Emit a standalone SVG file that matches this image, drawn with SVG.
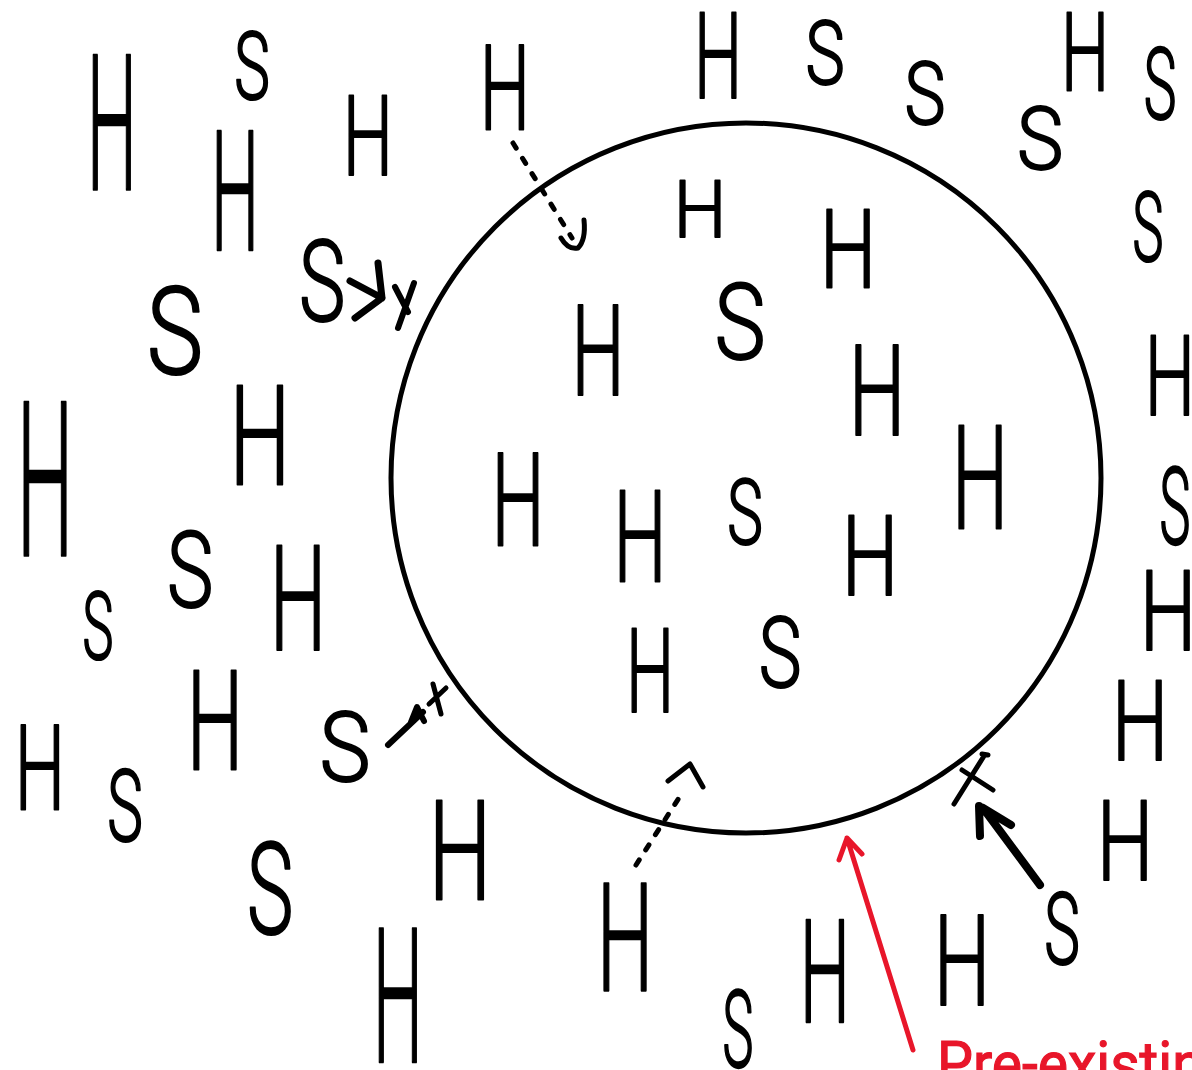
<svg xmlns="http://www.w3.org/2000/svg" width="1192" height="1070" viewBox="0 0 1192 1070">
<style>
.l{font-family:Roboto,"Liberation Sans","DejaVu Sans",sans-serif;font-weight:300;font-size:100px;fill:#000;stroke:#000;stroke-width:1.8px;vector-effect:non-scaling-stroke;stroke-linejoin:round;text-anchor:middle}
.c{fill:none;stroke:#000;stroke-linecap:round;stroke-linejoin:round}
.d{stroke-width:5;stroke-dasharray:6 12}
.r{fill:none;stroke:#e8162a;stroke-width:5;stroke-linecap:round;stroke-linejoin:round}
.rt{font-family:Roboto,"Liberation Sans",sans-serif;font-weight:400;font-size:62px;fill:#e8162a;stroke:#e8162a;stroke-width:1.2px;vector-effect:non-scaling-stroke}
</style>
<rect width="1192" height="1070" fill="#fff"/>
<g id="cell">
<circle cx="746" cy="478" r="355" fill="none" stroke="#000" stroke-width="5"/>
</g>
<g id="letters">
<g id="h1"><text class="l" transform="translate(112,190) scale(0.71,1.89)">H</text></g>
<g id="h2"><text class="l" transform="translate(235,250) scale(0.68,1.68)">H</text></g>
<g id="h3"><text class="l" transform="translate(368,175) scale(0.71,1.12)">H</text></g>
<g id="h4"><text class="l" transform="translate(505,130) scale(0.71,1.19)">H</text></g>
<g id="h5"><text class="l" transform="translate(718,98) scale(0.68,1.2)">H</text></g>
<g id="h6"><text class="l" transform="translate(1085,90) scale(0.68,1.09)">H</text></g>
<g id="h7"><text class="l" transform="translate(45,555) scale(0.8,2.16)">H</text></g>
<g id="h8"><text class="l" transform="translate(260,485) scale(0.86,1.4)">H</text></g>
<g id="h9"><text class="l" transform="translate(298,650) scale(0.8,1.47)">H</text></g>
<g id="h10"><text class="l" transform="translate(215,770) scale(0.8,1.4)">H</text></g>
<g id="h11"><text class="l" transform="translate(40,810) scale(0.71,1.19)">H</text></g>
<g id="h12"><text class="l" transform="translate(460,900) scale(0.89,1.4)">H</text></g>
<g id="h13"><text class="l" transform="translate(398,1062) scale(0.71,1.87)">H</text></g>
<g id="h14"><text class="l" transform="translate(625,990) scale(0.8,1.51)">H</text></g>
<g id="h15"><text class="l" transform="translate(825,1022) scale(0.71,1.42)">H</text></g>
<g id="h16"><text class="l" transform="translate(962,1005) scale(0.8,1.26)">H</text></g>
<g id="h17"><text class="l" transform="translate(1125,880) scale(0.8,1.12)">H</text></g>
<g id="h18"><text class="l" transform="translate(1140,760) scale(0.8,1.12)">H</text></g>
<g id="h19"><text class="l" transform="translate(1168,650) scale(0.8,1.12)">H</text></g>
<g id="h20"><text class="l" transform="translate(1170,415) scale(0.71,1.12)">H</text></g>
<g id="h21"><text class="l" transform="translate(700,237) scale(0.75,0.8)">H</text></g>
<g id="h22"><text class="l" transform="translate(848,287) scale(0.8,1.1)">H</text></g>
<g id="h23"><text class="l" transform="translate(598,395) scale(0.75,1.26)">H</text></g>
<g id="h24"><text class="l" transform="translate(877,435) scale(0.8,1.26)">H</text></g>
<g id="h25"><text class="l" transform="translate(518,545) scale(0.75,1.3)">H</text></g>
<g id="h26"><text class="l" transform="translate(640,582) scale(0.75,1.28)">H</text></g>
<g id="h27"><text class="l" transform="translate(980,528) scale(0.8,1.44)">H</text></g>
<g id="h28"><text class="l" transform="translate(870,595) scale(0.8,1.12)">H</text></g>
<g id="h29"><text class="l" transform="translate(650,712) scale(0.68,1.17)">H</text></g>
<g id="s1"><text class="l" transform="translate(252,99) scale(0.6,0.95)">S</text></g>
<g id="s2"><text class="l" transform="translate(825,84) scale(0.66,0.88)">S</text></g>
<g id="s3"><text class="l" transform="translate(925,124) scale(0.69,0.88)">S</text></g>
<g id="s4"><text class="l" transform="translate(1160,119) scale(0.55,1.01)">S</text></g>
<g id="s5"><text class="l" transform="translate(1040,169) scale(0.78,0.88)">S</text></g>
<g id="s6"><text class="l" transform="translate(1148,261) scale(0.52,0.97)">S</text></g>
<g id="s7"><text class="l" transform="translate(322,321) scale(0.78,1.14)">S</text></g>
<g id="s8"><text class="l" transform="translate(175,374) scale(0.95,1.22)">S</text></g>
<g id="s9"><text class="l" transform="translate(190,607) scale(0.78,1.05)">S</text></g>
<g id="s10"><text class="l" transform="translate(98,659) scale(0.52,0.95)">S</text></g>
<g id="s11"><text class="l" transform="translate(345,781) scale(0.86,0.97)">S</text></g>
<g id="s12"><text class="l" transform="translate(125,841) scale(0.6,1)">S</text></g>
<g id="s13"><text class="l" transform="translate(270,934) scale(0.78,1.28)">S</text></g>
<g id="s14"><text class="l" transform="translate(738,1067) scale(0.52,1.08)">S</text></g>
<g id="s15"><text class="l" transform="translate(1062,964) scale(0.6,1.01)">S</text></g>
<g id="s16"><text class="l" transform="translate(1175,544) scale(0.52,1.08)">S</text></g>
<g id="s17"><text class="l" transform="translate(740,359) scale(0.86,1.05)">S</text></g>
<g id="s18"><text class="l" transform="translate(745,544) scale(0.6,0.91)">S</text></g>
<g id="s19"><text class="l" transform="translate(780,687) scale(0.72,0.99)">S</text></g>
</g>
<g id="connectors">
<path class="c d" d="M513,143 L572,238"/>
<path class="c" stroke-width="5" d="M561,238 Q568,250 578,248 Q586,240 584,220"/>
<path class="c" stroke-width="7" d="M350,281 L382,298 M378,263 L382,298 L355,318"/>
<path class="c" stroke-width="6" d="M395,287 L408,312 M414,283 L398,328"/>
<path class="c" stroke-width="6" d="M388,745 L423,712 M411,722 L417,707 L424,721"/>
<path class="c" stroke-width="5" d="M433,684 L441,714 M429,704 L446,688"/>
<path class="c d" d="M636,865 L684,790"/>
<path class="c" stroke-width="5" d="M668,781 L690,764 L703,787"/>
<path class="c" stroke-width="8" d="M1040,885 L983,808 M979,806 L980,836 M983,808 L1011,825"/>
<path class="c" stroke-width="5" d="M982,754 L988,755 M984,756 L954,804 M962,770 L993,790"/>
</g>
<g id="annotation">
<path class="r" d="M913,1050 L847,838 M839,860 L847,838 L862,854"/>
<text class="rt" transform="translate(937,1085) scale(0.92,1)">Pre-existing</text>
</g>
</svg>
